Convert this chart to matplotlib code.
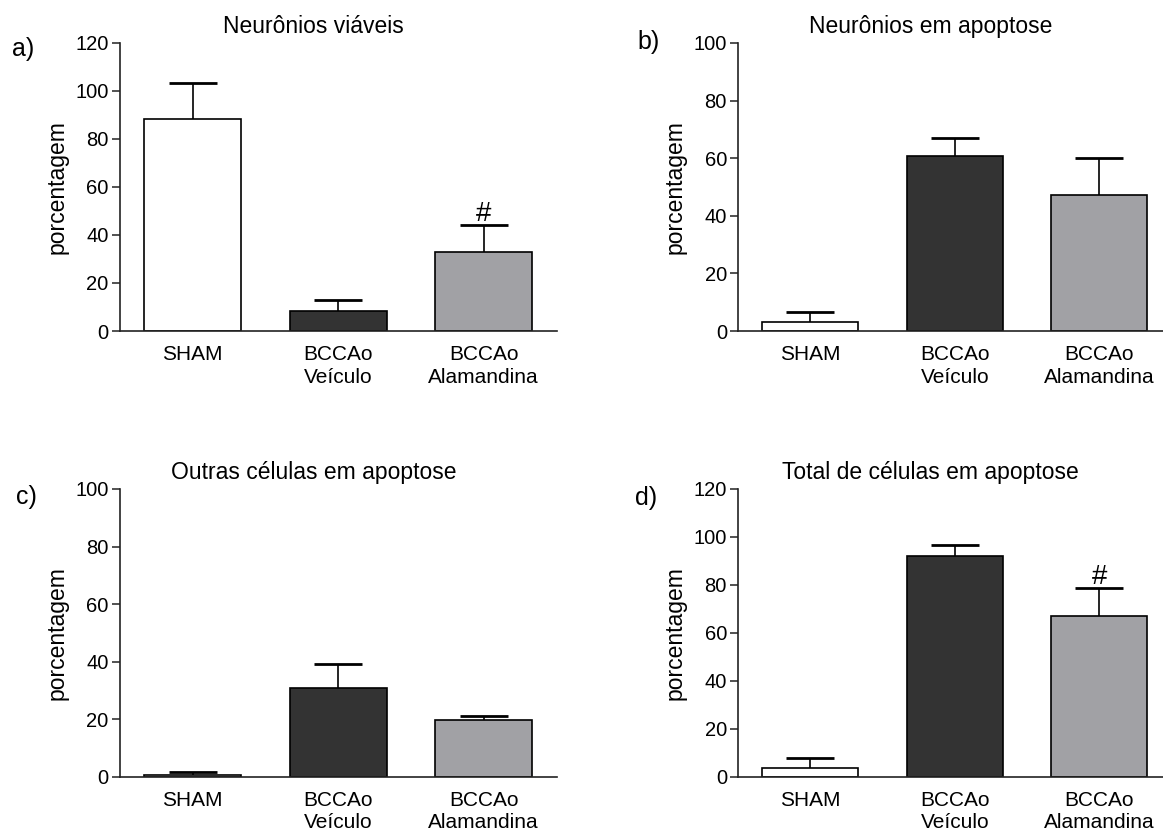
import matplotlib
matplotlib.use("Agg")
import matplotlib.pyplot as plt
import numpy as np

plt.rcParams["font.family"] = ["Liberation Sans", "DejaVu Sans"]

groups = ["SHAM", "BCCAo\nVeículo", "BCCAo\nAlamandina"]
bar_colors = ["#ffffff", "#333333", "#a1a1a5"]

titles = [
    "Neurônios viáveis",
    "Neurônios em apoptose",
    "Outras células em apoptose",
    "Total de células em apoptose",
]
panel_tags = ["a)", "b)", "c)", "d)"]

# mean and upper error (SEM) per group
viaveis_mean = [88.3, 8.5, 32.8]
viaveis_err = [15.2, 4.5, 11.4]
neur_apop_mean = [3.2, 60.6, 47.2]
neur_apop_err = [3.3, 6.3, 13.0]
outras_mean = [0.5, 30.8, 19.8]
outras_err = [1.0, 8.5, 1.4]
total_mean = [3.8, 91.9, 67.2]
total_err = [4.1, 4.8, 11.5]

y_max = [120, 100, 100, 120]
# groups flagged with "#"
marks = [[2], [], [], [2]]

means = [viaveis_mean, neur_apop_mean, outras_mean, total_mean]
errs = [viaveis_err, neur_apop_err, outras_err, total_err]

W, H = 1163, 835
fig = plt.figure(figsize=(W / 100, H / 100), dpi=100)

# axes rectangles in pixels: left, top, right, bottom
boxes = [
    (119.7, 43, 556.5, 331),
    (738, 43, 1163, 331),
    (119.7, 489, 556.5, 776.7),
    (738, 489, 1163, 776.7),
]
xlims = [(-0.5, 2.5), (-0.5, 2.44), (-0.5, 2.5), (-0.5, 2.44)]
tag_pos = [(23, 48.7), (649, 42.5), (26, 496.7), (646, 497.5)]

x = np.arange(len(groups))
for i in range(4):
    l, t, r, b = boxes[i]
    ax = fig.add_axes([l / W, 1 - b / H, (r - l) / W, (b - t) / H])
    ax.bar(x, means[i], width=0.665, color=bar_colors, edgecolor="black",
           linewidth=1.2, zorder=2)
    _, caps, _ = ax.errorbar(x, means[i], yerr=[np.zeros(3), errs[i]], fmt="none",
                             ecolor="black", elinewidth=1.2, capsize=17,
                             capthick=2, zorder=3)
    caps[0].set_visible(False)
    for k in marks[i]:
        ax.annotate("#", xy=(x[k], means[i][k] + errs[i][k]), xytext=(0, -1.5),
                    textcoords="offset points", ha="center", va="bottom",
                    fontsize=20)

    ax.set_xlim(*xlims[i])
    ax.set_ylim(0, y_max[i])
    ax.set_yticks(np.arange(0, y_max[i] + 1, 20))
    ax.set_xticks(x)
    ax.set_xticklabels(groups, fontsize=15, linespacing=1.25)
    ax.tick_params(axis="x", length=0, pad=10)
    ax.tick_params(axis="y", direction="out", length=5.5, width=1.1,
                   labelsize=14.5, pad=2.5, color="#222222")
    for s in ["top", "right"]:
        ax.spines[s].set_visible(False)
    for s in ["left", "bottom"]:
        ax.spines[s].set_color("#222222")
        ax.spines[s].set_linewidth(1.2)
    ax.set_ylabel("porcentagem", fontsize=16.5, labelpad=5)
    ax.set_title(titles[i], fontsize=16.5, x=(0.83 + 0.5) / (xlims[i][1] + 0.5), pad=7)

    tx, ty = tag_pos[i]
    fig.text(tx / W, 1 - ty / H, panel_tags[i], fontsize=18, ha="center", va="center")

fig.savefig("out.png", dpi=100, facecolor="white")
